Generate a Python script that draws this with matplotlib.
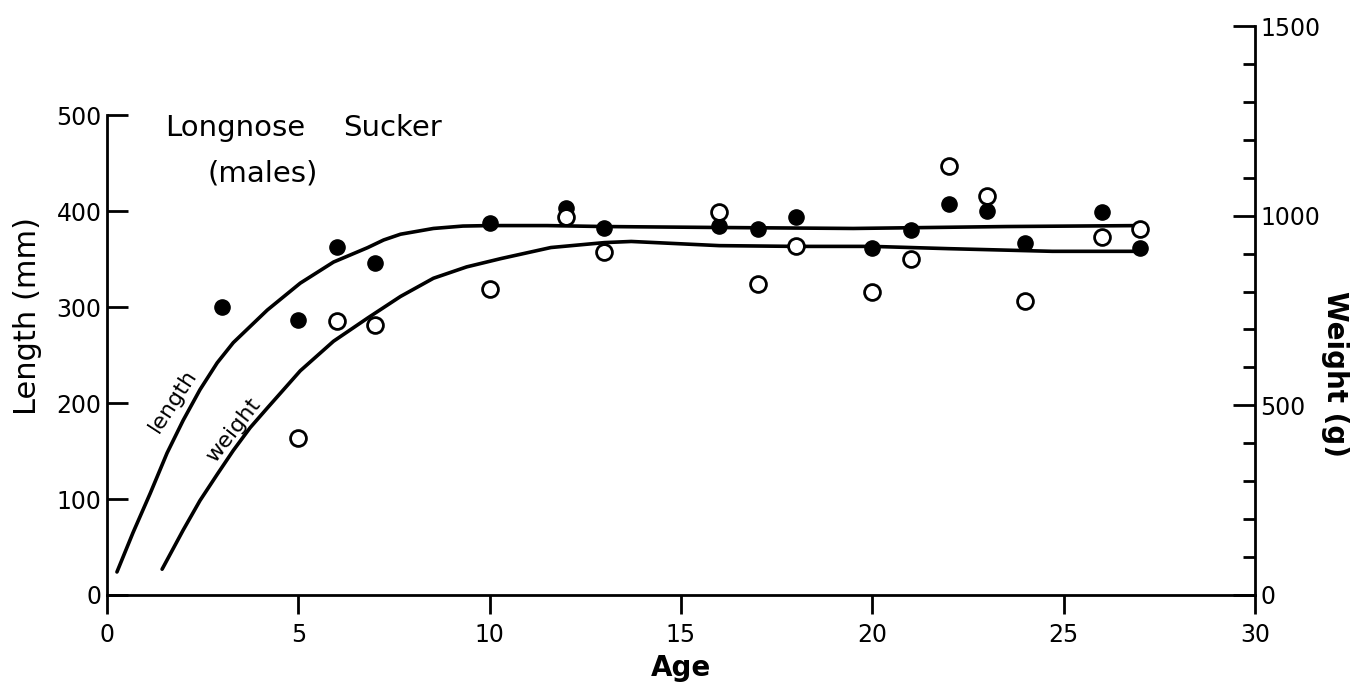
"""
Longnose Sucker (males) — length and weight against age.
Saves out.png
"""
import matplotlib

matplotlib.use("Agg")
import matplotlib.pyplot as plt

plt.rcParams["font.family"] = ["DejaVu Sans"]

# observed length (filled circles, left axis)
LEN_AGE = [3, 5, 6, 7, 10, 12, 13, 16, 17, 18, 20, 21, 22, 23, 24, 26, 27]
LEN_MM = [300, 287, 363, 346, 388, 403, 382, 385, 381, 394, 362, 380, 407, 400, 367, 399, 362]

# observed weight (open circles, right axis)
WT_AGE = [5, 6, 7, 10, 12, 13, 16, 17, 18, 20, 21, 22, 23, 24, 26, 27]
WT_G = [415, 722, 711, 806, 997, 905, 1010, 819, 919, 798, 887, 1131, 1052, 774, 945, 966]

# fitted curves
LEN_CURVE_AGE = [0.26, 0.68, 1.13, 1.57, 1.99, 2.43, 2.88, 3.30, 4.19, 5.05, 5.92, 6.81,
                 7.23, 7.67, 8.53, 9.3, 10.0, 11.5, 13.0, 16.0, 19.5, 23.5, 27.0]
LEN_CURVE_MM = [24, 65, 106, 148, 182, 214, 242, 263, 297, 325, 347, 362,
                370, 376, 382, 384.5, 385, 385, 384, 383, 382, 384, 385]
WT_CURVE_AGE = [1.44, 1.99, 2.43, 2.88, 3.30, 3.74, 4.19, 5.05, 5.92, 6.81, 7.67, 8.53,
                9.4, 10.3, 11.6, 13.0, 13.7, 16.0, 18.0, 20.0, 22.0, 24.7, 27.0]
WT_CURVE_G = [68, 171, 249, 318, 381, 441, 493, 591, 669, 730, 787, 835,
              865, 887, 916, 929, 932, 921, 919, 919, 913, 906, 906]

X_TICKS = [0, 5, 10, 15, 20, 25, 30]
LEN_TICKS = [0, 100, 200, 300, 400, 500]
WT_MAJOR = [0, 500, 1000, 1500]
WT_MINOR = list(range(0, 1600, 100))

W, H = 1367, 694
fig = plt.figure(figsize=(W / 100, H / 100), dpi=100)
ax = fig.add_axes([107 / W, 1 - 595 / H, (1255 - 107) / W, (595 - 26) / H])
ax2 = ax.twinx()

lw = 2.0
ax.set_xlim(0, 30)
ax.set_ylim(0, 593)
ax2.set_ylim(0, 1500)

for s in ("top", "right"):
    ax.spines[s].set_visible(False)
for s in ("top", "left", "bottom"):
    ax2.spines[s].set_visible(False)
ax.spines["left"].set_bounds(0, 500)
ax2.spines["right"].set_bounds(0, 1500)
for sp in (ax.spines["left"], ax.spines["bottom"], ax2.spines["right"]):
    sp.set_linewidth(lw)

ax.set_xticks(X_TICKS)
ax.set_yticks(LEN_TICKS)
ax.tick_params(axis="x", direction="out", length=14, width=lw, labelsize=17, pad=6)
ax.tick_params(axis="y", direction="in", length=15, width=lw, labelsize=17, pad=4)

ax2.set_yticks(WT_MAJOR)
ax2.set_yticks(WT_MINOR, minor=True)
ax2.tick_params(axis="y", which="major", direction="in", length=16, width=lw, labelsize=17, pad=4)
ax2.tick_params(axis="y", which="minor", direction="in", length=9, width=lw)

# curves
ax.plot(LEN_CURVE_AGE, LEN_CURVE_MM, color="black", lw=2.6, solid_capstyle="round",
        solid_joinstyle="round", zorder=2)
ax2.plot(WT_CURVE_AGE, WT_CURVE_G, color="black", lw=2.6, solid_capstyle="round",
         solid_joinstyle="round", zorder=2)

# points
ax.scatter(LEN_AGE, LEN_MM, s=120, color="black", zorder=3)
ax2.scatter(WT_AGE, WT_G, s=130, facecolor="white", edgecolor="black", linewidth=2.0, zorder=4)

ax.text(1.52, 487, "Longnose", fontsize=21, ha="left", va="center")
ax.text(6.18, 487, "Sucker", fontsize=21, ha="left", va="center")
ax.text(4.08, 439, "(males)", fontsize=21, ha="center", va="center")
ax.text(1.72, 202, "length", fontsize=16, rotation=57, ha="center", va="center")
ax.text(3.3, 172, "weight", fontsize=16, rotation=52, ha="center", va="center")

fig.text(28 / W, 1 - 316 / H, "Length (mm)", fontsize=22, rotation=90, ha="center", va="center")
fig.text(1335 / W, 1 - 374 / H, "Weight (g)", fontsize=20, rotation=-90, ha="center", va="center",
         fontweight="bold")
fig.text(681 / W, 1 - 668 / H, "Age", fontsize=20, ha="center", va="center", fontweight="bold")

fig.savefig("out.png", dpi=100)
